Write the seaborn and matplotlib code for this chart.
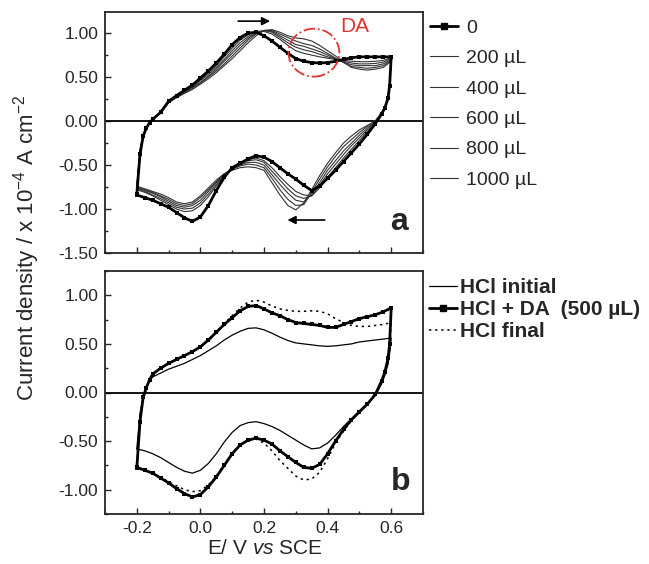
import matplotlib
matplotlib.use('Agg')
import matplotlib.pyplot as plt
from matplotlib.lines import Line2D
from matplotlib.patches import Ellipse
from matplotlib.ticker import MultipleLocator, FormatStrFormatter
import seaborn as sns
import pandas as pd


# Potential grid (V vs SCE) for the anodic and cathodic sweeps
E_FWD = [-0.2, -0.19, -0.18, -0.17, -0.16, -0.15, -0.125, -0.1, -0.075, -0.05, -0.025,
         0.0, 0.025, 0.05, 0.075, 0.1, 0.125, 0.15, 0.175, 0.2, 0.225, 0.25, 0.275,
         0.3, 0.325, 0.35, 0.375, 0.4, 0.425, 0.45, 0.475, 0.5, 0.525, 0.55, 0.575, 0.6]
E_REV = [0.6, 0.595, 0.59, 0.58, 0.57, 0.55, 0.525, 0.5, 0.475, 0.45, 0.425, 0.4,
         0.375, 0.35, 0.325, 0.3, 0.275, 0.25, 0.225, 0.2, 0.175, 0.15, 0.125, 0.1,
         0.075, 0.05, 0.025, 0.0, -0.025, -0.05, -0.075, -0.1, -0.125, -0.15, -0.175, -0.2]

# Panel a: current density (x 1e-4 A cm-2) for DA additions
J0_FWD = [-0.83, -0.38, -0.17, -0.08, -0.02, 0.02, 0.10, 0.225, 0.29, 0.35, 0.41,
          0.49, 0.57, 0.66, 0.76, 0.87, 0.95, 1.00, 1.01, 0.97, 0.91, 0.84, 0.77,
          0.71, 0.68, 0.665, 0.66, 0.665, 0.68, 0.70, 0.72, 0.73, 0.73, 0.73, 0.73, 0.73]
J0_REV = [0.73, 0.40, 0.26, 0.15, 0.08, -0.03, -0.15, -0.26, -0.36, -0.46, -0.56, -0.65,
          -0.74, -0.79, -0.73, -0.66, -0.60, -0.53, -0.46, -0.41, -0.395, -0.43, -0.48, -0.53,
          -0.64, -0.79, -0.96, -1.09, -1.14, -1.10, -1.04, -0.98, -0.94, -0.90, -0.87, -0.84]

J200_FWD = [-0.78, -0.37, -0.17, -0.08, -0.02, 0.02, 0.10, 0.22, 0.285, 0.34, 0.40,
            0.47, 0.55, 0.63, 0.73, 0.83, 0.92, 0.98, 1.02, 1.02, 0.99, 0.93, 0.86,
            0.80, 0.77, 0.75, 0.73, 0.715, 0.70, 0.69, 0.68, 0.675, 0.675, 0.68, 0.69, 0.72]
J200_REV = [0.72, 0.40, 0.26, 0.15, 0.08, -0.03, -0.12, -0.22, -0.32, -0.42, -0.53, -0.64,
            -0.76, -0.85, -0.84, -0.80, -0.72, -0.63, -0.53, -0.45, -0.42, -0.44, -0.48, -0.54,
            -0.62, -0.74, -0.86, -0.96, -1.02, -1.03, -1.00, -0.95, -0.90, -0.85, -0.81, -0.78]

J400_FWD = [-0.77, -0.36, -0.17, -0.08, -0.02, 0.02, 0.10, 0.22, 0.28, 0.335, 0.39,
            0.46, 0.53, 0.61, 0.70, 0.80, 0.89, 0.96, 1.01, 1.03, 1.01, 0.95, 0.89,
            0.84, 0.81, 0.79, 0.76, 0.73, 0.705, 0.68, 0.66, 0.65, 0.65, 0.655, 0.67, 0.71]
J400_REV = [0.71, 0.40, 0.26, 0.15, 0.08, -0.02, -0.10, -0.19, -0.28, -0.38, -0.49, -0.60,
            -0.73, -0.85, -0.88, -0.85, -0.77, -0.67, -0.57, -0.47, -0.44, -0.45, -0.49, -0.54,
            -0.61, -0.72, -0.83, -0.93, -0.99, -1.00, -0.98, -0.93, -0.88, -0.84, -0.80, -0.77]

J600_FWD = [-0.76, -0.35, -0.16, -0.08, -0.02, 0.02, 0.10, 0.21, 0.275, 0.33, 0.38,
            0.44, 0.51, 0.59, 0.68, 0.77, 0.86, 0.94, 1.00, 1.03, 1.02, 0.97, 0.92,
            0.87, 0.85, 0.82, 0.79, 0.75, 0.71, 0.67, 0.64, 0.63, 0.63, 0.63, 0.65, 0.70]
J600_REV = [0.70, 0.40, 0.26, 0.15, 0.09, -0.01, -0.08, -0.16, -0.25, -0.34, -0.45, -0.56,
            -0.70, -0.83, -0.92, -0.90, -0.82, -0.72, -0.61, -0.50, -0.47, -0.47, -0.50, -0.545,
            -0.60, -0.70, -0.80, -0.90, -0.96, -0.98, -0.96, -0.91, -0.86, -0.82, -0.79, -0.76]

J800_FWD = [-0.75, -0.34, -0.16, -0.08, -0.02, 0.02, 0.09, 0.21, 0.27, 0.32, 0.37,
            0.43, 0.50, 0.57, 0.65, 0.74, 0.83, 0.92, 0.99, 1.03, 1.03, 0.99, 0.95,
            0.91, 0.88, 0.86, 0.82, 0.77, 0.715, 0.665, 0.62, 0.61, 0.60, 0.61, 0.63, 0.69]
J800_REV = [0.69, 0.40, 0.26, 0.16, 0.09, 0.0, -0.06, -0.13, -0.21, -0.29, -0.40, -0.52,
            -0.66, -0.81, -0.95, -0.96, -0.89, -0.78, -0.65, -0.53, -0.50, -0.49, -0.51, -0.55,
            -0.60, -0.69, -0.78, -0.87, -0.94, -0.96, -0.94, -0.89, -0.85, -0.81, -0.78, -0.75]

J1000_FWD = [-0.74, -0.33, -0.15, -0.08, -0.02, 0.02, 0.09, 0.21, 0.265, 0.315, 0.36,
             0.42, 0.48, 0.55, 0.63, 0.71, 0.80, 0.89, 0.97, 1.03, 1.04, 1.01, 0.97,
             0.945, 0.935, 0.91, 0.86, 0.80, 0.74, 0.67, 0.61, 0.59, 0.58, 0.59, 0.61, 0.68]
J1000_REV = [0.68, 0.40, 0.26, 0.16, 0.10, 0.0, -0.05, -0.10, -0.17, -0.25, -0.36, -0.48,
             -0.62, -0.78, -0.93, -1.01, -0.96, -0.84, -0.70, -0.56, -0.53, -0.52, -0.53, -0.56,
             -0.60, -0.67, -0.76, -0.85, -0.92, -0.94, -0.92, -0.87, -0.83, -0.80, -0.77, -0.74]

DA_LABELS = ['0', '200 \u00b5L', '400 \u00b5L', '600 \u00b5L', '800 \u00b5L', '1000 \u00b5L']

# Panel b: HCl blank before / with DA / after
HCL_INI_FWD = [-0.58, -0.22, -0.04, 0.06, 0.12, 0.16, 0.20, 0.24, 0.27, 0.30, 0.34,
               0.38, 0.43, 0.48, 0.54, 0.59, 0.63, 0.66, 0.665, 0.645, 0.61, 0.57, 0.535,
               0.51, 0.50, 0.49, 0.48, 0.475, 0.48, 0.49, 0.50, 0.52, 0.53, 0.54, 0.55, 0.56]
HCL_INI_REV = [0.56, 0.40, 0.29, 0.18, 0.09, -0.03, -0.11, -0.19, -0.27, -0.35, -0.44, -0.52,
               -0.57, -0.58, -0.54, -0.49, -0.44, -0.39, -0.35, -0.32, -0.30, -0.31, -0.34, -0.41,
               -0.51, -0.63, -0.73, -0.80, -0.83, -0.81, -0.77, -0.72, -0.67, -0.63, -0.60, -0.58]

HCL_DA_FWD = [-0.78, -0.30, -0.05, 0.05, 0.13, 0.19, 0.25, 0.30, 0.34, 0.38, 0.42,
              0.47, 0.54, 0.62, 0.70, 0.77, 0.84, 0.885, 0.895, 0.86, 0.82, 0.79, 0.75,
              0.72, 0.71, 0.70, 0.69, 0.67, 0.67, 0.70, 0.73, 0.76, 0.78, 0.80, 0.83, 0.87]
HCL_DA_REV = [0.87, 0.50, 0.35, 0.21, 0.12, -0.02, -0.12, -0.20, -0.28, -0.38, -0.50, -0.63,
              -0.74, -0.78, -0.77, -0.72, -0.66, -0.60, -0.53, -0.49, -0.47, -0.49, -0.54, -0.63,
              -0.75, -0.87, -0.97, -1.05, -1.075, -1.04, -0.99, -0.93, -0.88, -0.83, -0.80, -0.77]

HCL_FIN_FWD = [-0.78, -0.30, -0.05, 0.05, 0.13, 0.19, 0.25, 0.30, 0.34, 0.38, 0.42,
               0.47, 0.54, 0.62, 0.71, 0.79, 0.87, 0.93, 0.95, 0.93, 0.89, 0.86, 0.845,
               0.835, 0.835, 0.84, 0.835, 0.81, 0.76, 0.72, 0.69, 0.68, 0.68, 0.69, 0.70, 0.72]
HCL_FIN_REV = [0.72, 0.45, 0.32, 0.19, 0.10, -0.02, -0.12, -0.20, -0.29, -0.40, -0.52, -0.68,
               -0.82, -0.89, -0.90, -0.86, -0.78, -0.70, -0.60, -0.52, -0.48, -0.49, -0.54, -0.62,
               -0.74, -0.86, -0.95, -1.01, -1.02, -1.00, -0.96, -0.92, -0.87, -0.83, -0.80, -0.78]

HCL_LABELS = ['HCl initial', 'HCl + DA  (500 \u00b5L)', 'HCl final']


def _cv_frame(curves):
    # one row per point, forward sweep then reverse sweep, for each curve
    rows = []
    for name, fwd, rev in curves:
        for e, j in zip(E_FWD + E_REV, fwd + rev):
            rows.append({'curve': name, 'E': e, 'j': j})
    return pd.DataFrame(rows)


def _style_axis(ax, ylim, yticks_min, show_xlabels):
    ax.set_xlim(-0.3, 0.7)
    ax.set_ylim(*ylim)
    ax.xaxis.set_major_locator(MultipleLocator(0.2))
    ax.xaxis.set_minor_locator(MultipleLocator(0.1))
    ax.yaxis.set_major_locator(MultipleLocator(0.5))
    ax.yaxis.set_minor_locator(MultipleLocator(0.25))
    ax.set_yticks([t for t in [-1.5, -1.0, -0.5, 0.0, 0.5, 1.0] if t >= yticks_min])
    ax.yaxis.set_major_formatter(FormatStrFormatter('%.2f'))
    ax.xaxis.set_major_formatter(FormatStrFormatter('%.1f'))
    ax.tick_params(which='both', direction='in', width=1.0, labelsize=12.5, pad=5)
    ax.tick_params(which='major', length=4.5)
    ax.tick_params(which='minor', length=2.5)
    if not show_xlabels:
        ax.tick_params(axis='x', labelbottom=False)
    for sp in ax.spines.values():
        sp.set_linewidth(1.3)
        sp.set_visible(True)
    ax.axhline(0, color='black', lw=1.3, zorder=1)
    ax.set_xlabel('')
    ax.set_ylabel('')


sns.set_theme(style='ticks')
plt.rcParams['font.family'] = ['Liberation Sans', 'DejaVu Sans']
plt.rcParams['mathtext.fontset'] = 'custom'
plt.rcParams['mathtext.rm'] = 'Liberation Sans'
plt.rcParams['mathtext.it'] = 'Liberation Sans:italic'

fig = plt.figure(figsize=(6.49, 5.64), dpi=100)
W, H = 649.0, 564.0
ax_a = fig.add_axes([105 / W, 1 - 253 / H, 318 / W, 241 / H])
ax_b = fig.add_axes([105 / W, 1 - 514 / H, 318 / W, 243 / H])

# ---- panel a
df_a = _cv_frame([
    ('0', J0_FWD, J0_REV),
    ('200', J200_FWD, J200_REV),
    ('400', J400_FWD, J400_REV),
    ('600', J600_FWD, J600_REV),
    ('800', J800_FWD, J800_REV),
    ('1000', J1000_FWD, J1000_REV),
])
for name in ['200', '400', '600', '800', '1000']:
    sns.lineplot(data=df_a[df_a['curve'] == name], x='E', y='j', sort=False,
                 estimator=None, color='#333333', lw=0.8, ax=ax_a, zorder=3)
sns.lineplot(data=df_a[df_a['curve'] == '0'], x='E', y='j', sort=False,
             estimator=None, color='black', lw=2.0, marker='s', markersize=3.2,
             markeredgewidth=0, ax=ax_a, zorder=4)
_style_axis(ax_a, (-1.5, 1.24), -1.5, False)

ax_a.annotate('', xy=(0.228, 1.136), xytext=(0.11, 1.136),
              arrowprops=dict(arrowstyle='-|>', color='black', lw=1.2, mutation_scale=12))
ax_a.annotate('', xy=(0.265, -1.125), xytext=(0.40, -1.125),
              arrowprops=dict(arrowstyle='-|>', color='black', lw=1.2, mutation_scale=12))
ax_a.add_patch(Ellipse((0.357, 0.778), 0.16, 0.545, fill=False, ec='#e0352f',
                       ls='-.', lw=1.3, zorder=5))
ax_a.text(0.485, 1.08, 'DA', color='#e0352f', fontsize=15, ha='center', va='center')
ax_a.text(0.926, 0.127, 'a', transform=ax_a.transAxes, fontsize=23,
          fontweight='bold', ha='center', va='center')

h_a = [Line2D([], [], color='black', lw=2.0, marker='s', markersize=4)]
h_a += [Line2D([], [], color='#333333', lw=0.8) for _ in range(5)]
fig.legend(h_a, DA_LABELS, loc='upper left', bbox_to_anchor=(430 / W, 1 - 19 / H),
           bbox_transform=fig.transFigure, frameon=False, fontsize=14,
           handlelength=1.45, handletextpad=0.4, labelspacing=0.66,
           borderpad=0, borderaxespad=0)

# ---- panel b
df_b = _cv_frame([
    (HCL_LABELS[0], HCL_INI_FWD, HCL_INI_REV),
    (HCL_LABELS[1], HCL_DA_FWD, HCL_DA_REV),
    (HCL_LABELS[2], HCL_FIN_FWD, HCL_FIN_REV),
])
sns.lineplot(data=df_b[df_b['curve'] == HCL_LABELS[0]], x='E', y='j', sort=False,
             estimator=None, color='black', lw=0.9, ax=ax_b, zorder=3)
sns.lineplot(data=df_b[df_b['curve'] == HCL_LABELS[2]], x='E', y='j', sort=False,
             estimator=None, color='black', lw=1.1, dashes=False, ax=ax_b, zorder=3)
ax_b.lines[-1].set_linestyle((0, (1.5, 2.5)))
sns.lineplot(data=df_b[df_b['curve'] == HCL_LABELS[1]], x='E', y='j', sort=False,
             estimator=None, color='black', lw=2.0, marker='s', markersize=3.2,
             markeredgewidth=0, ax=ax_b, zorder=4)
_style_axis(ax_b, (-1.25, 1.25), -1.0, True)
ax_b.text(0.931, 0.132, 'b', transform=ax_b.transAxes, fontsize=23,
          fontweight='bold', ha='center', va='center')

h_b = [Line2D([], [], color='black', lw=0.9),
       Line2D([], [], color='black', lw=2.0, marker='s', markersize=4),
       Line2D([], [], color='black', lw=1.1, ls=(0, (1.5, 2.5)))]
fig.legend(h_b, HCL_LABELS, loc='upper left', bbox_to_anchor=(429 / W, 1 - 278 / H),
           bbox_transform=fig.transFigure, frameon=False,
           prop={'size': 15, 'weight': 'bold'},
           handlelength=1.35, handletextpad=0.15, labelspacing=0.14,
           borderpad=0, borderaxespad=0)

# axis titles shared by both panels
fig.text(265 / W, 1 - 549 / H, 'E/ V $\\mathit{vs}$ SCE', fontsize=15,
         ha='center', va='center')
fig.text(27 / W, 1 - 248 / H, 'Current density / x 10$^{-4}$ A cm$^{-2}$',
         fontsize=16, rotation=90, ha='center', va='center')

fig.savefig('out.png', dpi=100)
